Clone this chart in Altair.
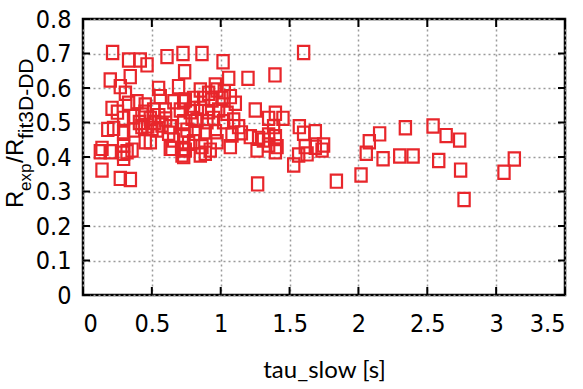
import altair as alt
import pandas as pd

# Measured relaxation ratio against slow time constant
tau_slow = [
    0.215, 0.331, 0.416, 0.465, 0.610, 0.726, 0.864, 1.017, 1.602,
    0.343, 0.738, 1.058, 1.198, 1.394,
    0.198, 0.271, 0.549, 0.694, 0.961, 1.026, 0.308,
    0.852, 0.912, 0.973,
    0.211, 1.251, 0.222,
    0.331, 0.392, 0.452, 0.561, 0.513, 0.598,
    0.295, 0.367, 0.428, 0.489,
    0.295, 0.367, 0.428, 0.501, 0.574, 0.634, 0.658, 0.731,
    0.743, 0.803, 0.792,
    0.138, 0.295, 0.295, 0.356, 0.489, 0.452, 0.634, 0.731, 0.767,
    0.731, 0.803, 0.876, 0.937, 1.009, 1.070, 1.106,
    0.707, 0.779, 0.852, 0.912, 0.985, 1.046, 1.397,
    0.731, 0.828, 0.900, 0.948, 1.021, 1.094, 1.130, 1.348, 1.384,
    0.537, 0.622, 0.755, 0.816, 0.888, 0.961, 1.082, 1.215, 1.275, 1.348, 1.397,
    0.646, 0.803, 0.864, 0.924, 0.973, 1.070, 1.264, 1.348, 0.852, 0.731,
    0.126, 0.198, 0.138, 0.271, 0.344, 0.295, 0.320, 0.719, 0.888,
    1.268, 0.743, 1.310,
    1.452, 1.571, 1.602, 1.687, 1.747, 1.687, 1.614, 1.409,
    2.154, 2.079, 2.057, 2.341, 2.542, 2.637, 2.735, 1.566, 2.179, 2.300, 2.397, 2.583,
    1.397, 1.530, 1.627, 1.736, 1.840, 2.019,
    2.742, 2.767, 3.057, 3.132,
    0.450, 0.520, 0.550, 0.600, 0.470, 0.410, 0.250, 0.180, 0.660, 1.150,
]
ratio = [
    0.703, 0.681, 0.681, 0.667, 0.691, 0.700, 0.700, 0.676, 0.703,
    0.633, 0.647, 0.628, 0.628, 0.638,
    0.623, 0.604, 0.599, 0.604, 0.609, 0.589, 0.585,
    0.594, 0.585, 0.594,
    0.541, 0.536, 0.483,
    0.556, 0.560, 0.551, 0.575, 0.536, 0.536,
    0.512, 0.517, 0.522, 0.512,
    0.469, 0.478, 0.488, 0.483, 0.493, 0.488, 0.449, 0.459,
    0.565, 0.541, 0.512,
    0.425, 0.435, 0.411, 0.420, 0.444, 0.444, 0.425, 0.425, 0.440,
    0.560, 0.570, 0.570, 0.565, 0.570, 0.575, 0.556,
    0.536, 0.531, 0.541, 0.531, 0.536, 0.527, 0.527,
    0.502, 0.507, 0.502, 0.512, 0.502, 0.507, 0.488, 0.512, 0.488,
    0.478, 0.469, 0.478, 0.469, 0.473, 0.473, 0.464, 0.459, 0.454, 0.464, 0.459,
    0.425, 0.444, 0.430, 0.420, 0.444, 0.430, 0.420, 0.435, 0.406, 0.401,
    0.415, 0.415, 0.362, 0.338, 0.335, 0.396, 0.415, 0.406, 0.411,
    0.322, 0.420, 0.449,
    0.512, 0.488, 0.469, 0.473, 0.435, 0.428, 0.430, 0.430,
    0.467, 0.444, 0.411, 0.485, 0.490, 0.462, 0.449, 0.406, 0.395, 0.403, 0.403, 0.390,
    0.415, 0.377, 0.409, 0.420, 0.330, 0.348,
    0.362, 0.277, 0.356, 0.394,
    0.530, 0.500, 0.520, 0.510, 0.490, 0.500, 0.530, 0.480, 0.560, 0.470,
]

x_ticks = [0, 0.5, 1, 1.5, 2, 2.5, 3, 3.5]
y_ticks = [0, 0.1, 0.2, 0.3, 0.4, 0.5, 0.6, 0.7, 0.8]

W, H = 482, 276
RED = "#e8262b"
TICK_FONT = "Liberation Sans Narrow, DejaVu Sans Condensed, sans-serif"
TITLE_FONT = "Liberation Sans, Arial, sans-serif"

pts = pd.DataFrame({"tau_slow": tau_slow, "ratio": ratio})
xt = pd.DataFrame({"tau_slow": x_ticks})
yt = pd.DataFrame({"ratio": y_ticks})

x_scale = alt.Scale(domain=[0, 3.5], nice=False, zero=False)
y_scale = alt.Scale(domain=[0, 0.8], nice=False, zero=False)

x_axis = alt.Axis(values=x_ticks, format="~g", title="tau_slow [s]",
                  labelPadding=16, titlePadding=22)
y_axis = alt.Axis(values=y_ticks, format="~g", title=None, labelPadding=12)

X = alt.X("tau_slow:Q", scale=x_scale, axis=x_axis)
Y = alt.Y("ratio:Q", scale=y_scale, axis=y_axis)

# open rectangle marker, slightly taller than wide
box = "M-0.85,-1L0.85,-1L0.85,1L-0.85,1Z"

points = alt.Chart(pts).mark_point(
    shape=box, size=175, filled=False, strokeWidth=2.2, color=RED, opacity=1
).encode(x=X, y=Y)

# inward tick marks on all four sides
tick_style = dict(color="black", strokeWidth=2)
bottom_ticks = alt.Chart(xt).mark_rule(**tick_style).encode(
    x=X, y=alt.value(H), y2=alt.value(H - 8))
top_ticks = alt.Chart(xt).mark_rule(**tick_style).encode(
    x=X, y=alt.value(0), y2=alt.value(8))
left_ticks = alt.Chart(yt).mark_rule(**tick_style).encode(
    y=Y, x=alt.value(0), x2=alt.value(7))
right_ticks = alt.Chart(yt).mark_rule(**tick_style).encode(
    y=Y, x=alt.value(W), x2=alt.value(W - 7))

# y axis title R_exp / R_fit3D-DD built from rotated pieces
one = alt.Data(values=[{}])


def piece(text, size, x, y):
    return alt.Chart(one).mark_text(
        text=text, angle=270, align="left", baseline="alphabetic",
        font=TITLE_FONT, fontSize=size, color="black"
    ).encode(x=alt.value(x), y=alt.value(y))


y_title = (
    piece("R", 24, -60, 189)
    + piece("exp", 17, -52, 172)
    + piece("/", 24, -60, 144)
    + piece("R", 24, -60, 137)
    + piece("fit3D-DD", 21, -50, 120)
)

chart = alt.layer(
    points, bottom_ticks, top_ticks, left_ticks, right_ticks, y_title
).properties(
    width=W, height=H,
    autosize=alt.AutoSizeParams(type="none"),
    padding={"left": 83, "top": 19, "right": 18, "bottom": 94},
    background="white",
).configure_view(
    stroke="black", strokeWidth=2.5
).configure_axis(
    grid=True, gridDash=[2, 3], gridColor="#9a9a9a", gridWidth=1.5,
    ticks=False, domain=False,
    labelFont=TICK_FONT, labelFontSize=25, labelColor="black",
    titleFont="Lato, Open Sans, sans-serif", titleFontSize=24,
    titleFontWeight="normal", titleColor="black",
)

chart.save("out.html", embed_options={"renderer": "svg", "actions": False})
